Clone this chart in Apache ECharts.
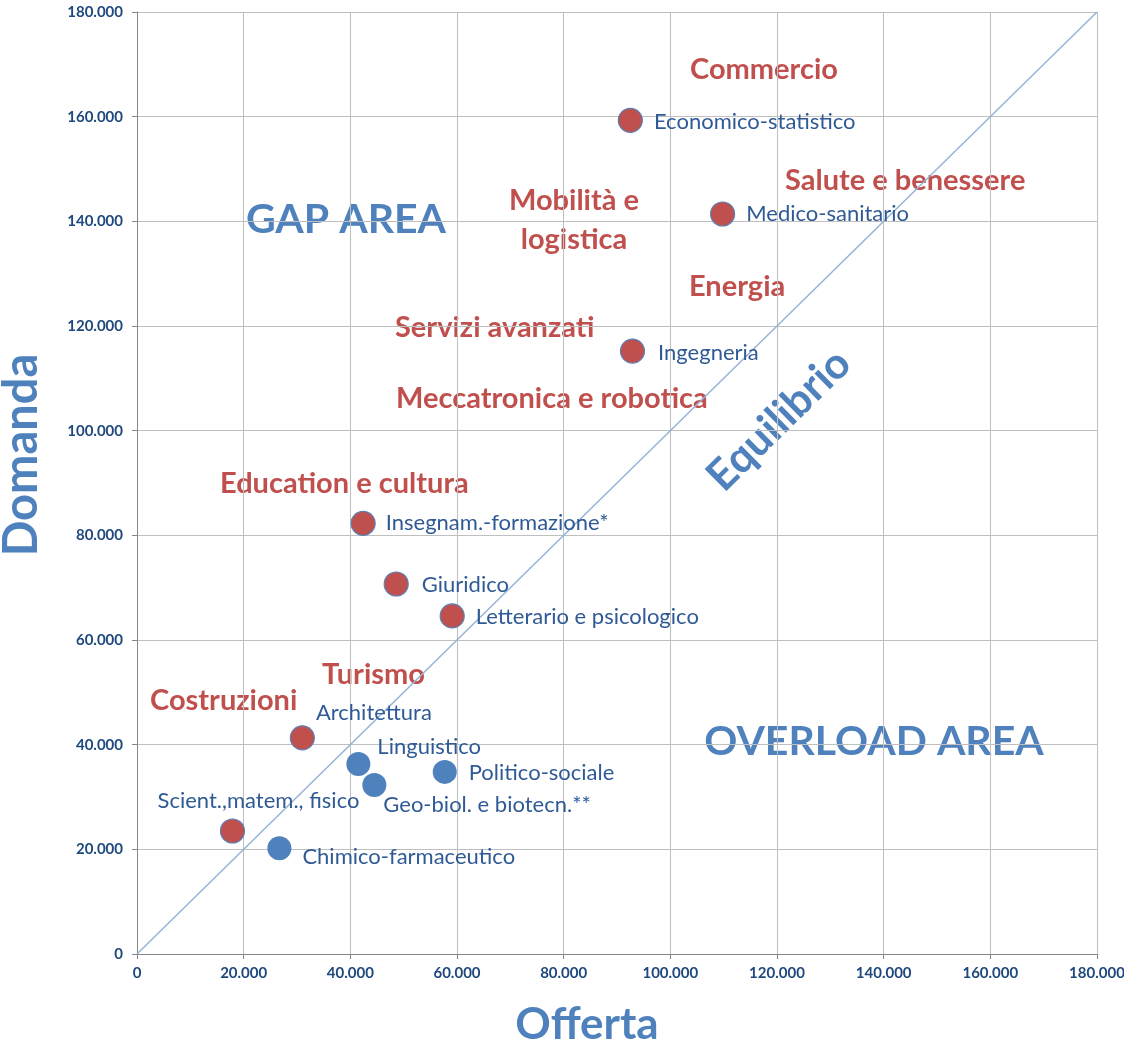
<!DOCTYPE html>
<html>
<head>
<meta charset="utf-8">
<script src="https://cdn.jsdelivr.net/npm/echarts@6/dist/echarts.min.js"></script>
<style>
  html, body { margin: 0; padding: 0; background: #fff; }
  #chart { width: 1124px; height: 1045px; }
</style>
</head>
<body>
<div id="chart"></div>
<script>
// gruppi di laurea con domanda > offerta (rossi)
const redNames = ['Economico-statistico', 'Medico-sanitario', 'Ingegneria', 'Insegnam.-formazione*',
  'Giuridico', 'Letterario e psicologico', 'Architettura', 'Scient.,matem., fisico'];
const redOfferta = [92500, 109800, 92900, 42400, 48600, 59100, 31000, 17900];
const redDomanda = [159300, 141400, 115200, 82300, 70700, 64600, 41300, 23500];

// gruppi con offerta >= domanda (blu)
const blueNames = ['Linguistico', 'Politico-sociale', 'Geo-biol. e biotecn.**', 'Chimico-farmaceutico'];
const blueOfferta = [41500, 57700, 44500, 26700];
const blueDomanda = [36300, 34800, 32300, 20200];

// linea di equilibrio
const equilibrio = [[0, 0], [180000, 180000]];

const ticks = [0, 20000, 40000, 60000, 80000, 100000, 120000, 140000, 160000, 180000];

const RED = '#C0504D';
const BLUE = '#4F81BD';
const LABEL = '#2F5A96';
const FONT = 'Lato, "Noto Sans", sans-serif';

// label placement per point (offset from 'right' or 'top' position)
const labelPlace = {
  'Economico-statistico': { position: 'right', offset: [6, 2] },
  'Medico-sanitario': { position: 'right', offset: [6, 0] },
  'Ingegneria': { position: 'right', offset: [8, 2] },
  'Insegnam.-formazione*': { position: 'right', offset: [5, 0] },
  'Giuridico': { position: 'right', offset: [8, 1] },
  'Letterario e psicologico': { position: 'right', offset: [6, 1] },
  'Architettura': { position: 'right', offset: [-4, -25] },
  'Scient.,matem., fisico': { position: 'top', offset: [26, -2] },
  'Linguistico': { position: 'right', offset: [2, -17] },
  'Politico-sociale': { position: 'right', offset: [7, 1] },
  'Geo-biol. e biotecn.**': { position: 'right', offset: [-8, 20] },
  'Chimico-farmaceutico': { position: 'right', offset: [6, 9] }
};

const fmt = v => String(v).replace(/\B(?=(\d{3})+(?!\d))/g, '.');

const buildPoints = (names, xs, ys) => names.map((n, i) => ({
  name: n,
  value: [xs[i], ys[i]],
  label: labelPlace[n]
}));

const chart = echarts.init(document.getElementById('chart'));

const redText = (text, x, y) => ({
  type: 'text', x: x, y: y,
  style: { text: text, fill: RED, font: 'bold 29px ' + FONT, textAlign: 'left', textVerticalAlign: 'middle' }
});

const blueText = (text, x, y, size, rot) => ({
  type: 'text', x: x, y: y, rotation: rot || 0,
  style: { text: text, fill: BLUE, font: 'bold ' + size + 'px ' + FONT, textAlign: 'center', textVerticalAlign: 'middle' }
});

const option = {
  animation: false,
  backgroundColor: '#fff',
  grid: { left: 137, right: 27, top: 12, bottom: 91, containLabel: false, outerBoundsMode: 'none' },
  xAxis: {
    type: 'value',
    min: ticks[0], max: ticks[ticks.length - 1], interval: ticks[1] - ticks[0],
    axisLine: { lineStyle: { color: '#868686' } },
    axisTick: { show: true, length: 5, lineStyle: { color: '#868686' } },
    axisLabel: { color: '#1F497D', fontFamily: FONT, fontWeight: 'bold', fontSize: 15, margin: 12, formatter: fmt },
    splitLine: { lineStyle: { color: '#BFBFBF' } }
  },
  yAxis: {
    type: 'value',
    min: ticks[0], max: ticks[ticks.length - 1], interval: ticks[1] - ticks[0],
    axisLine: { show: true, lineStyle: { color: '#868686' } },
    axisTick: { show: true, length: 5, lineStyle: { color: '#868686' } },
    axisLabel: { color: '#1F497D', fontFamily: FONT, fontWeight: 'bold', fontSize: 15, margin: 14, formatter: fmt },
    splitLine: { lineStyle: { color: '#BFBFBF' } }
  },
  series: [
    {
      type: 'line',
      data: equilibrio,
      symbol: 'none',
      lineStyle: { color: '#95B3D7', width: 1.5 },
      z: 1
    },
    {
      type: 'scatter',
      data: buildPoints(redNames, redOfferta, redDomanda),
      symbolSize: 24,
      itemStyle: { color: RED, borderColor: '#5B7FB5', borderWidth: 1.2, opacity: 1 },
      label: { show: true, formatter: '{b}', color: LABEL, fontFamily: FONT, fontSize: 22 },
      z: 3
    },
    {
      type: 'scatter',
      data: buildPoints(blueNames, blueOfferta, blueDomanda),
      symbolSize: 24,
      itemStyle: { color: BLUE, opacity: 1 },
      label: { show: true, formatter: '{b}', color: LABEL, fontFamily: FONT, fontSize: 22 },
      z: 3
    }
  ],
  graphic: [
    redText('Commercio', 690, 70),
    redText('Salute e benessere', 785, 181),
    {
      type: 'text', x: 574, y: 220,
      style: { text: 'Mobilità e\nlogistica', fill: RED, font: 'bold 29px ' + FONT, lineHeight: 39, textAlign: 'center', textVerticalAlign: 'middle' }
    },
    redText('Energia', 689, 287),
    redText('Servizi avanzati', 395, 328),
    redText('Meccatronica e robotica', 396, 399),
    redText('Education e cultura', 220, 484),
    redText('Turismo', 322, 675),
    redText('Costruzioni', 150, 701),
    blueText('GAP AREA', 346, 220, 41),
    blueText('OVERLOAD AREA', 874, 742, 41),
    blueText('Equilibrio', 779, 420, 43, 44.5 * Math.PI / 180),
    blueText('Offerta', 587, 1025, 44),
    blueText('Domanda', 22, 455, 47, Math.PI / 2)
  ]
};

chart.setOption(option);
</script>
</body>
</html>
